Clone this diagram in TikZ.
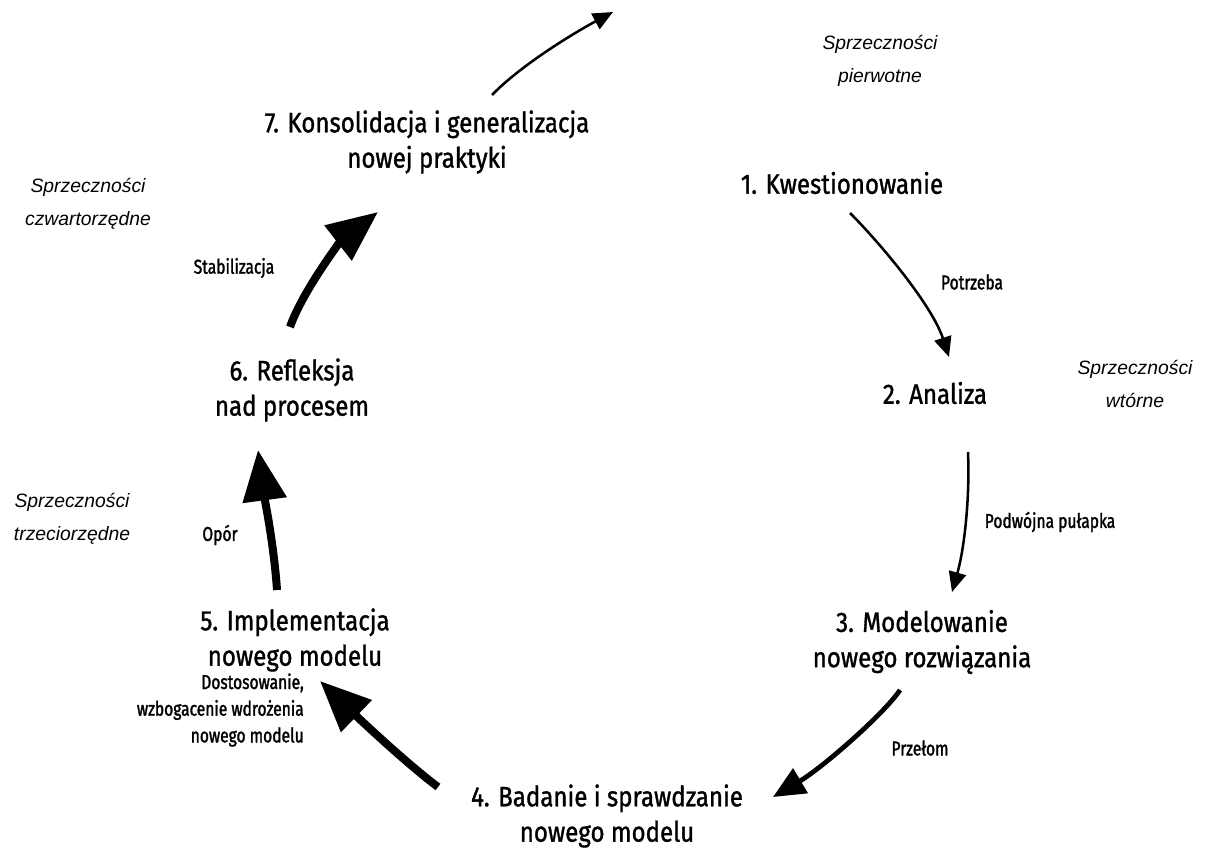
\documentclass[tikz,border=0pt]{standalone}
\usepackage{fontspec}
\setmainfont{Liberation Sans}
\newfontfamily\cond[FakeStretch=0.86,FakeBold=1.2]{Fira Sans}
\newfontfamily\condlbl[FakeStretch=0.78,FakeBold=1.6]{Fira Sans}
\usetikzlibrary{arrows.meta}
\begin{document}
\begin{tikzpicture}[x=0.75pt,y=-0.75pt,
  stage/.style={inner sep=0pt,align=center,font=\cond\fontsize{21}{26.5}\selectfont},
  lbl/.style={inner sep=0pt,align=center,font=\condlbl\fontsize{15}{20}\selectfont},
  contra/.style={inner sep=0pt,align=center,font=\itshape\fontsize{14.5}{24.5}\selectfont},
  thinarr/.style={line width=1.9pt,-{Triangle[length=15pt,width=13pt]}},
  midarr/.style={line width=3.6pt,-{Triangle[length=24pt,width=21pt]}},
  thickarr/.style={line width=6pt,-{Triangle[length=38pt,width=32pt]}}]
\useasboundingbox (0,0) rectangle (1210,848);
% stages
\node[stage] (n7) at (427,142) {7. Konsolidacja i generalizacja\\nowej praktyki};
\node[stage] (n1) at (842,183) {1. Kwestionowanie};
\node[stage] (n6) at (292,390) {6. Refleksja\\nad procesem};
\node[stage] (n2) at (935,393) {2. Analiza};
\node[stage] (n5) at (295,640) {5. Implementacja\\nowego modelu};
\node[stage] (n3) at (922,642) {3. Modelowanie\\nowego rozwiązania};
\node[stage] (n4) at (607,816) {4. Badanie i sprawdzanie\\nowego modelu};
% contradictions
\node[contra] (c1) at (880,61) {Sprzeczności\\pierwotne};
\node[contra] (c4) at (88,204) {Sprzeczności\\czwartorzędne};
\node[contra] (c2) at (1135,384) {Sprzeczności\\wtórne};
\node[contra] (c3) at (72,519) {Sprzeczności\\trzeciorzędne};
% labels
\node[lbl] (lp) at (972,282) {Potrzeba};
\node[lbl] (ls) at (234,268) {Stabilizacja};
\node[lbl] (lpp) at (1050,522) {Podwójna pułapka};
\node[lbl] (lo) at (220,535) {Opór};
\node[lbl] (lpr) at (920,748) {Przełom};
\node[lbl,align=right,anchor=east] (ld) at (304,710) {Dostosowanie,\\wzbogacenie wdrożenia\\nowego modelu};
% arrow endpoints
\coordinate (t7) at (492,95);  \coordinate (tx) at (613,12);
\coordinate (a1) at (850,213); \coordinate (a2) at (949,357);
\coordinate (b2) at (968,452); \coordinate (b3) at (952,592);
\coordinate (c3s) at (900,690); \coordinate (c4e) at (773,797);
\coordinate (d4) at (438,787); \coordinate (d5) at (320,681);
\coordinate (e5) at (277,590); \coordinate (e6) at (258,450);
\coordinate (f6) at (290,327); \coordinate (f7) at (378,212);
% arrows
\draw[thinarr] (t7) .. controls (520,66) and (572,34) .. (tx);
\draw[thinarr] (a1) .. controls (880,243) and (932,305) .. (a2);
\draw[thinarr] (b2) .. controls (970,500) and (964,550) .. (b3);
\draw[midarr] (c3s) .. controls (884,714) and (822,768) .. (c4e);
\draw[thickarr] (d4) .. controls (402,760) and (348,708) .. (d5);
\draw[thickarr] (e5) .. controls (274,545) and (264,495) .. (e6);
\draw[thickarr] (f6) .. controls (303,290) and (342,240) .. (f7);
\end{tikzpicture}
\end{document}
